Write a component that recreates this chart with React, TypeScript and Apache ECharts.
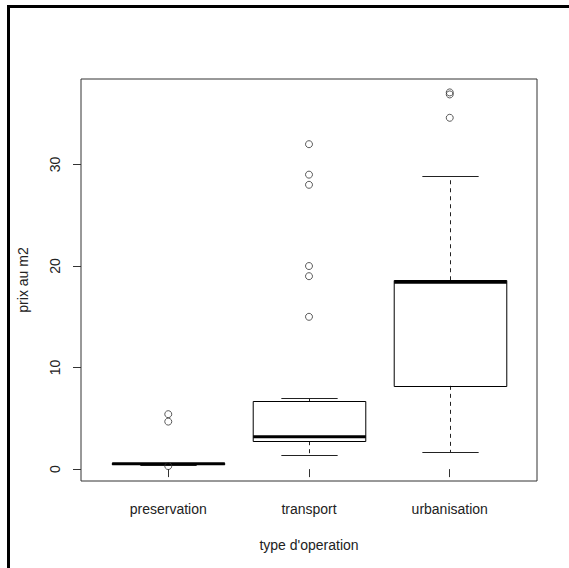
import React, { useEffect, useRef } from "react";
import * as echarts from "echarts";

const categories = ["preservation", "transport", "urbanisation"];
const lowerWhisker = [0.38, 1.35, 1.65];
const lowerQuartile = [0.47, 2.75, 8.2];
const medians = [0.52, 3.2, 18.4];
const upperQuartile = [0.56, 6.7, 18.6];
const upperWhisker = [0.6, 7.05, 28.85];
const outliers = [
  [0.3, 4.68, 5.41],
  [15, 19, 20, 28, 29, 32],
  [34.6, 36.9, 37.1],
];
const yTicks = [0, 10, 20, 30];
const xTicks = [1, 2, 3];

const FONT = "'Liberation Sans', Arial, sans-serif";

export default function App() {
  const ref = useRef<HTMLDivElement>(null);
  useEffect(() => {
    if (!ref.current) return;
    const chart = echarts.init(ref.current, null, { renderer: "svg" });
    const boxData = categories.map((_, i) => [
      i + 1,
      lowerWhisker[i],
      lowerQuartile[i],
      medians[i],
      upperQuartile[i],
      upperWhisker[i],
    ]);
    const outlierData: number[][] = [];
    outliers.forEach((arr, i) => arr.forEach((v) => outlierData.push([i + 1, v])));
    const px = (v: number) => Math.round(v) + 0.5;

    const renderItem = (params: any, api: any) => {
      const x = api.value(0);
      const pLow = api.coord([x, api.value(1)]);
      const pQ1 = api.coord([x, api.value(2)]);
      const pMed = api.coord([x, api.value(3)]);
      const pQ3 = api.coord([x, api.value(4)]);
      const pHigh = api.coord([x, api.value(5)]);
      const hw = api.size([0.4, 0])[0];
      const cw = hw / 2;
      const cx = px(pMed[0]);
      const thin = { stroke: "#222", lineWidth: 1 };
      return {
        type: "group",
        children: [
          {
            type: "line",
            shape: { x1: cx, y1: pQ3[1], x2: cx, y2: px(pHigh[1]) },
            style: { ...thin, lineDash: [4, 4] },
          },
          {
            type: "line",
            shape: { x1: cx, y1: pQ1[1], x2: cx, y2: px(pLow[1]) },
            style: { ...thin, lineDash: [4, 4] },
          },
          {
            type: "line",
            shape: { x1: cx - cw, y1: px(pHigh[1]), x2: cx + cw, y2: px(pHigh[1]) },
            style: thin,
          },
          {
            type: "line",
            shape: { x1: cx - cw, y1: px(pLow[1]), x2: cx + cw, y2: px(pLow[1]) },
            style: thin,
          },
          {
            type: "rect",
            shape: {
              x: cx - hw,
              y: px(pQ3[1]),
              width: 2 * hw,
              height: px(pQ1[1]) - px(pQ3[1]),
            },
            style: { fill: "none", stroke: "#000", lineWidth: 1 },
          },
          {
            type: "line",
            shape: { x1: cx - hw, y1: pMed[1], x2: cx + hw, y2: pMed[1] },
            style: { stroke: "#000", lineWidth: 3 },
          },
        ],
      };
    };

    chart.setOption({
      animation: false,
      backgroundColor: "#fff",
      grid: {
        left: 81,
        top: 79,
        width: 456,
        height: 402,
        show: true,
        borderColor: "#333",
        borderWidth: 1,
        backgroundColor: "transparent",
      },
      xAxis: {
        type: "value",
        min: 0.38,
        max: 3.62,
        axisLine: { show: false },
        splitLine: { show: false },
        axisTick: {
          show: true,
          customValues: xTicks,
          length: 8,
          lineStyle: { color: "#333", width: 1 },
        },
        axisLabel: {
          customValues: xTicks,
          formatter: (v: number) => categories[Math.round(v) - 1] ?? "",
          margin: 21,
          color: "#222",
          fontSize: 14,
          fontFamily: FONT,
        },
        name: "type d'operation",
        nameLocation: "middle",
        nameGap: 57,
        nameTextStyle: { color: "#222", fontSize: 14, fontFamily: FONT },
      },
      yAxis: {
        type: "value",
        min: -1.17,
        max: 38.42,
        axisLine: { show: false },
        splitLine: { show: false },
        axisTick: {
          show: true,
          customValues: yTicks,
          length: 8,
          lineStyle: { color: "#333", width: 1 },
        },
        axisLabel: {
          customValues: yTicks,
          rotate: 90,
          margin: 19,
          color: "#222",
          fontSize: 14,
          fontFamily: FONT,
        },
        name: "prix au m2",
        nameLocation: "middle",
        nameRotate: 90,
        nameGap: 51,
        nameTextStyle: { color: "#222", fontSize: 14, fontFamily: FONT },
      },
      series: [
        {
          type: "custom",
          renderItem,
          data: boxData,
          encode: { x: 0, y: [1, 2, 3, 4, 5] },
          silent: true,
          z: 2,
        },
        {
          type: "scatter",
          data: outlierData,
          symbol: "circle",
          symbolSize: 7,
          silent: true,
          itemStyle: { color: "none", borderColor: "#333", borderWidth: 1 },
          z: 3,
        },
      ],
      graphic: [
        { type: "rect", shape: { x: 7, y: 5, width: 3, height: 563 }, style: { fill: "#000" } },
        { type: "rect", shape: { x: 7, y: 5, width: 562, height: 3 }, style: { fill: "#000" } },
      ],
    });
    return () => chart.dispose();
  }, []);
  return (
    <div
      ref={ref}
      style={{ position: "fixed", left: 0, top: 0, width: 569, height: 568, background: "#fff" }}
    />
  );
}
